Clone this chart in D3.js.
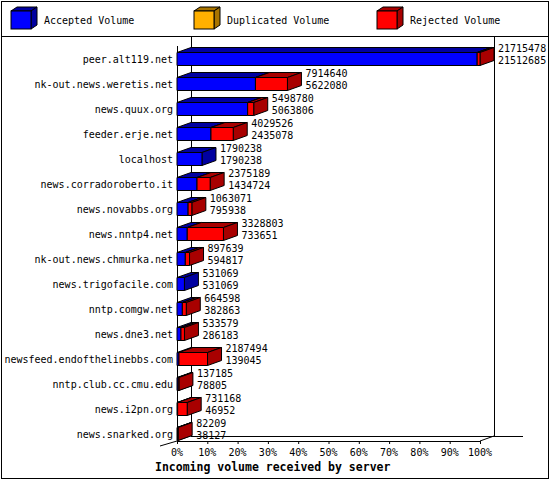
<!DOCTYPE html>
<html><head><meta charset="utf-8">
<script src="https://cdn.jsdelivr.net/npm/d3@7"></script>
<style>body{margin:0;background:#fff}svg{display:block}text{font-family:"DejaVu Sans Mono",monospace;font-size:10px}</style>
</head><body><div id="chart"></div>
<script>
const servers = ['peer.alt119.net','nk-out.news.weretis.net','news.quux.org','feeder.erje.net','localhost','news.corradoroberto.it','news.novabbs.org','news.nntp4.net','nk-out.news.chmurka.net','news.trigofacile.com','nntp.comgw.net','news.dne3.net','newsfeed.endofthelinebbs.com','nntp.club.cc.cmu.edu','news.i2pn.org','news.snarked.org'];
const totalVolume = [21715478,7914640,5498780,4029526,1790238,2375189,1063071,3328803,897639,531069,664598,533579,2187494,137185,731168,82209];
const acceptedVolume = [21512685,5622080,5063806,2435078,1790238,1434724,795938,733651,594817,531069,382863,286183,139045,78805,46952,38127];
const ticks = [0,10,20,30,40,50,60,70,80,90,100];
const legend = [['Accepted Volume','#0000ff','#0000a0'],['Duplicated Volume','#ffb000','#a87400'],['Rejected Volume','#ff0000','#a80000']];

const W = 550, H = 480, dx = 14, dy = -5;
const svg = d3.select('#chart').append('svg').attr('width', W).attr('height', H);
svg.append('rect').attr('x',1.5).attr('y',1.5).attr('width',W-3).attr('height',H-3).attr('fill','none').attr('stroke','#000');
svg.append('line').attr('x1',1).attr('x2',W-1).attr('y1',36.5).attr('y2',36.5).attr('stroke','#000');

const lg = svg.append('g');
legend.forEach(([name, c, s], i) => {
  const x = 11 + i * 183, y = 11, w = 20, h = 18, d = 6;
  const g = lg.append('g').attr('stroke','#000').attr('stroke-width',1);
  g.append('path').attr('d',`M${x},${y}l${d},${-d/1.5}h${w}l${-d},${d/1.5}z`).attr('fill',s);
  g.append('path').attr('d',`M${x+w},${y}l${d},${-d/1.5}v${h}l${-d},${d/1.5}z`).attr('fill',s);
  g.append('rect').attr('x',x).attr('y',y).attr('width',w).attr('height',h).attr('fill',c);
  lg.append('text').attr('x',x+33).attr('y',y+13).text(name);
});

const x = d3.scaleLinear().domain([0,100]).range([177,480]);
const y = d3.scaleBand().domain(servers).range([46,446]).paddingInner(0.48).paddingOuter(0.24);
const max = d3.max(totalVolume);
const x0 = x(0), yb = 441;

// walls
const wall = svg.append('g').attr('stroke','#000').attr('fill','none');
wall.append('line').attr('x1',x0+0.5).attr('x2',x0+0.5).attr('y1',46).attr('y2',yb);
wall.append('line').attr('x1',x0+dx+0.5).attr('x2',x0+dx+0.5).attr('y1',37).attr('y2',yb+dy);
wall.append('line').attr('x1',x(100)+dx+0.5).attr('x2',x(100)+dx+0.5).attr('y1',37).attr('y2',yb+dy);
wall.append('line').attr('x1',x0+dx).attr('x2',523).attr('y1',yb+dy+0.5).attr('y2',yb+dy+0.5);
wall.append('line').attr('x1',x0).attr('x2',x(100)).attr('y1',yb+0.5).attr('y2',yb+0.5);
wall.append('line').attr('x1',160).attr('x2',x0).attr('y1',yb+5).attr('y2',yb);
wall.append('line').attr('x1',x(100)).attr('x2',x(100)+dx).attr('y1',yb).attr('y2',yb+dy);

const ax = svg.append('g');
ticks.forEach(t => {
  ax.append('line').attr('x1',x(t)+0.5).attr('x2',x(t)+0.5).attr('y1',yb).attr('y2',yb+3).attr('stroke','#000');
  ax.append('text').attr('x',x(t)).attr('y',yb+15).attr('text-anchor','middle').text(t+'%');
});
svg.append('text').attr('x',155).attr('y',471).attr('font-weight','bold').style('font-size','11.5px').text('Incoming volume received by server');

const bars = svg.append('g').attr('stroke','#000').attr('stroke-width',1).attr('stroke-linejoin','round');
function box(x1, x2, top, h, c, s) {
  if (x2 - x1 <= 0) return;
  bars.append('path').attr('d',`M${x1},${top}l${dx},${dy}H${x2+dx}l${-dx},${-dy}z`).attr('fill',s);
  bars.append('path').attr('d',`M${x2},${top}l${dx},${dy}v${h}l${-dx},${-dy}z`).attr('fill',s);
  bars.append('rect').attr('x',x1).attr('y',top).attr('width',x2-x1).attr('height',h).attr('fill',c);
}
servers.forEach((sv, i) => {
  const top = Math.round(y(sv)) + 0.5, h = 13;
  const xa = x(acceptedVolume[i] / max * 100), xt = x(totalVolume[i] / max * 100);
  box(x0, xa, top, h, '#0000ff', '#0000a0');
  box(xa, xt, top, h, '#ff0000', '#a80000');
  svg.append('text').attr('x',x0-4).attr('y',top+10).attr('text-anchor','end').text(sv);
  svg.append('text').attr('x',xt+dx+4).attr('y',top-1).text(totalVolume[i]);
  svg.append('text').attr('x',xt+dx+4).attr('y',top+11).text(acceptedVolume[i]);
});
</script></body></html>
